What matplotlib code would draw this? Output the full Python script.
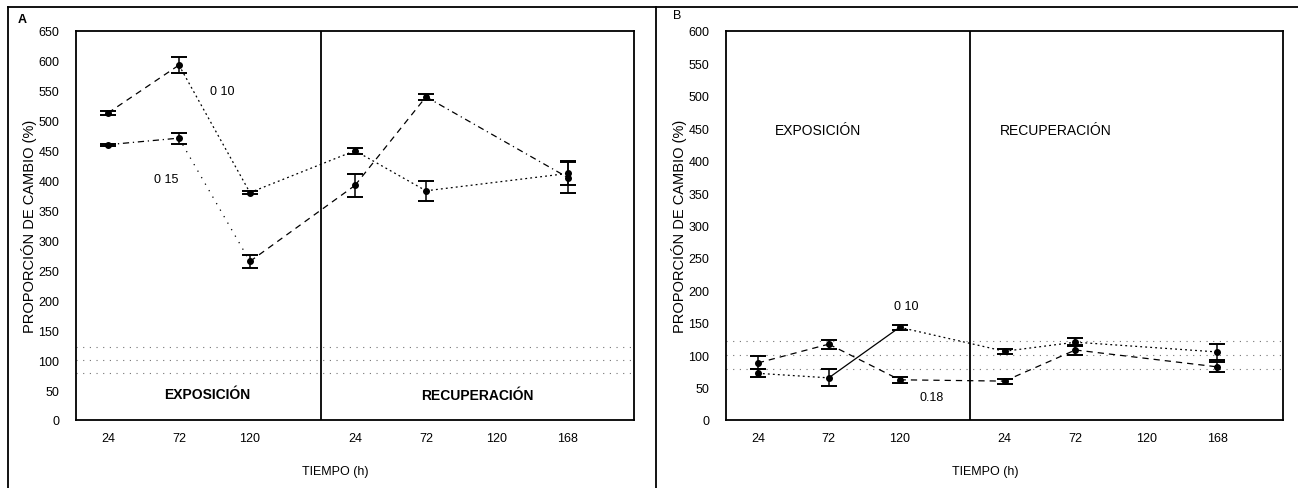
import numpy as np
import matplotlib.pyplot as plt
from matplotlib.lines import Line2D

plt.rcParams['font.family'] = ['Liberation Sans Narrow', 'Liberation Sans', 'DejaVu Sans']

# %% data
tiempo = ['24', '72', '120', '24', '72', '120', '168']
n_exp = 3

# panel A
a_010 = [513, 593, 380, 450, 383, np.nan, 412]
a_010_err = [3, 14, 3, 5, 17, np.nan, 20]
a_015 = [460, 471, 265, 392, 540, np.nan, 405]
a_015_err = [2, 9, 11, 19, 5, np.nan, 26]

# panel B
b_010 = [72, 65, 143, 106, 120, np.nan, 105]
b_010_err = [6, 13, 4, 4, 6, np.nan, 12]
b_018 = [88, 117, 62, 60, 108, np.nan, 82]
b_018_err = [10, 7, 5, 4, 7, np.nan, 8]

control = [100, 122, 78]

# x positions: exposure and recovery blocks with a gap at the divider
xpos = np.array([0.45 + i for i in range(n_exp)] +
                [3.93 + i for i in range(len(tiempo) - n_exp)])
xdiv = 3.45
xmax = 7.86

DOT = (0, (1.5, 2.5))
DASH = (0, (5, 4))
DASHDOT = (0, (5, 3, 1, 3))
SPARSE = (0, (1, 5))


def serie(ax, y, err, styles):
    y = np.asarray(y, float)
    err = np.asarray(err, float)
    ok = ~np.isnan(y)
    x, y, err = xpos[ok], y[ok], err[ok]
    for i in range(len(x) - 1):
        ax.plot(x[i:i+2], y[i:i+2], color='k', lw=0.9, ls=styles[i])
    ax.errorbar(x, y, yerr=err, fmt='o', ms=4, color='k', ecolor='k',
                elinewidth=1.1, capsize=6, capthick=1.4)


def panel(ax, ymax):
    for c in control:
        ax.axhline(c, color='0.45', lw=0.8, ls=SPARSE, zorder=0)
    ax.axvline(xdiv, color='k', lw=1.3)
    ax.set_xlim(0, xmax)
    ax.set_ylim(0, ymax)
    ax.set_yticks(np.arange(0, ymax + 1, 50))
    ax.set_xticks(xpos)
    ax.set_xticklabels(tiempo)
    ax.tick_params(length=0, labelsize=9, pad=9)
    ax.tick_params(axis='y', pad=12)
    for s in ax.spines.values():
        s.set_linewidth(1.3)
    ax.set_ylabel('PROPORCIÓN DE CAMBIO (%)', fontsize=10.5, labelpad=1)


fig = plt.figure(figsize=(12.98, 4.89), dpi=100)

# %% A
axA = fig.add_axes([76/1298, 68/489, 558/1298, 389/489])
panel(axA, 650)
serie(axA, a_010, a_010_err, [DASH, DOT, DOT, DOT, DOT])
serie(axA, a_015, a_015_err, [DASHDOT, SPARSE, DASH, DASH, DASHDOT])
axA.text(2.06, 550, '0 10', fontsize=9, ha='center', va='center')
axA.text(1.27, 403, '0 15', fontsize=9, ha='center', va='center')
axA.text(1.85, 43, 'EXPOSICIÓN', fontsize=10, weight='bold', ha='center', va='center')
axA.text(5.65, 42, 'RECUPERACIÓN', fontsize=10, weight='bold', ha='center', va='center')
axA.set_xlabel('TIEMPO (h)', fontsize=9)
axA.xaxis.set_label_coords(0.465, -0.115)

# %% B
axB = fig.add_axes([726/1298, 68/489, 557/1298, 389/489])
panel(axB, 600)
serie(axB, b_010, b_010_err, [DOT, '-', DOT, DOT, DOT])
serie(axB, b_018, b_018_err, [DASH, DASH, DASH, DASH, DASH])
axB.text(2.55, 176, '0 10', fontsize=9, ha='center', va='center')
axB.text(2.9, 35, '0.18', fontsize=9, ha='center', va='center')
axB.text(1.3, 447, 'EXPOSICIÓN', fontsize=10, ha='center', va='center')
axB.text(4.66, 447, 'RECUPERACIÓN', fontsize=10, ha='center', va='center')
axB.set_xlabel('TIEMPO (h)', fontsize=9)
axB.xaxis.set_label_coords(0.465, -0.115)

# panel letters and outer frame
fig.text(18/1298, 1 - 20/489, 'A', fontsize=9, weight='bold', va='center')
fig.text(673/1298, 1 - 16/489, 'B', fontsize=9, va='center')
top = 1 - 8/489
fig.add_artist(Line2D([8/1298, 1], [top, top], color='k', lw=1.3))
fig.add_artist(Line2D([8/1298, 8/1298], [0, top], color='k', lw=1.3))
fig.add_artist(Line2D([656/1298, 656/1298], [0, top], color='k', lw=1.3))

fig.savefig('out.png', dpi=100)
